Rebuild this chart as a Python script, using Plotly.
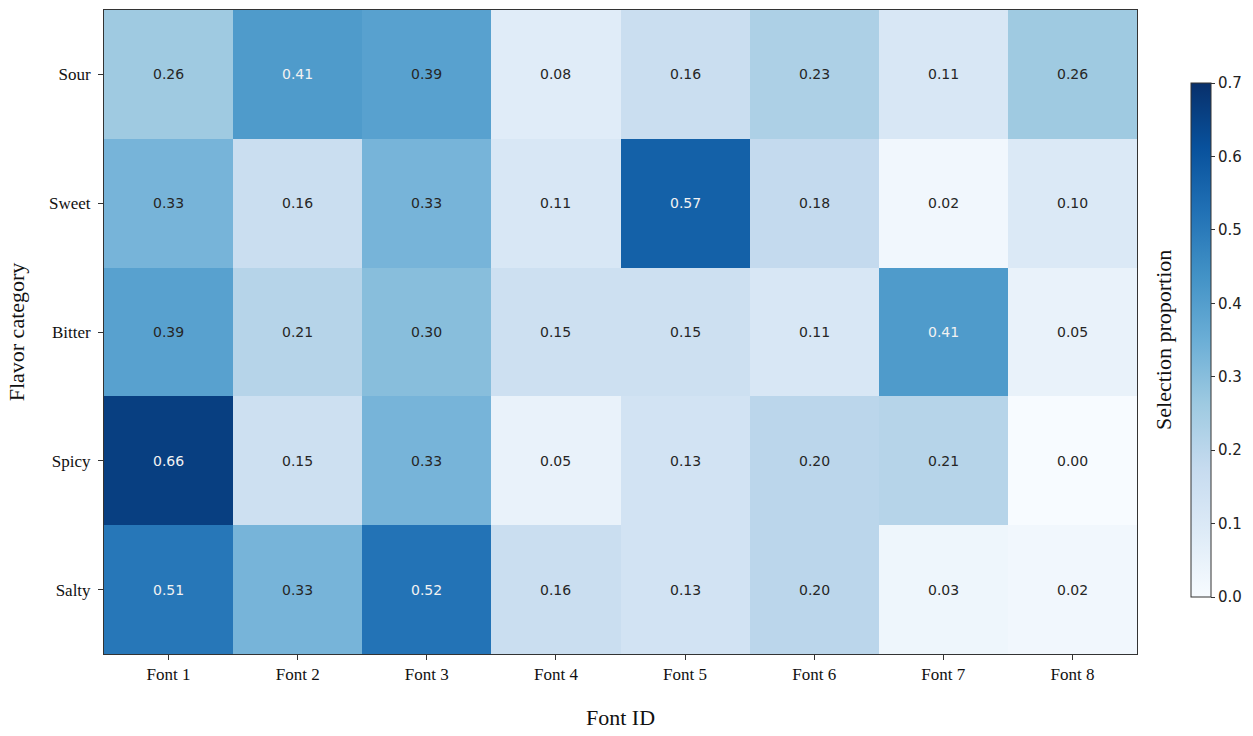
import plotly.graph_objects as go

fonts = ["Font 1", "Font 2", "Font 3", "Font 4", "Font 5", "Font 6", "Font 7", "Font 8"]
flavors = ["Sour", "Sweet", "Bitter", "Spicy", "Salty"]
values = [
    [0.26, 0.41, 0.39, 0.08, 0.16, 0.23, 0.11, 0.26],
    [0.33, 0.16, 0.33, 0.11, 0.57, 0.18, 0.02, 0.10],
    [0.39, 0.21, 0.30, 0.15, 0.15, 0.11, 0.41, 0.05],
    [0.66, 0.15, 0.33, 0.05, 0.13, 0.20, 0.21, 0.00],
    [0.51, 0.33, 0.52, 0.16, 0.13, 0.20, 0.03, 0.02],
]
cbar_ticks = [0.0, 0.1, 0.2, 0.3, 0.4, 0.5, 0.6, 0.7]

serif = "Liberation Serif"
sans = "DejaVu Sans"

fig = go.Figure()
fig.add_trace(go.Heatmap(
    z=values, x=fonts, y=flavors,
    colorscale="Blues", zmin=0, zmax=0.7,
    xgap=0, ygap=0,
    hoverinfo="skip",
    colorbar=dict(
        x=(1193 - 104) / 1035, xanchor="left", xpad=0,
        y=1 - (340 - 10) / 644, yanchor="middle", ypad=0,
        len=514 / 644, lenmode="fraction",
        thickness=20, thicknessmode="pixels",
        outlinewidth=1, outlinecolor="#333333",
        tickvals=cbar_ticks, ticktext=[f"{t:.1f}" for t in cbar_ticks],
        ticks="outside", ticklen=4, tickcolor="#333333",
        tickfont=dict(family=sans, size=15, color="#222222"),
    ),
))

for i, row in enumerate(values):
    for j, v in enumerate(row):
        fig.add_annotation(
            x=fonts[j], y=flavors[i], text=f"{v:.2f}", showarrow=False,
            font=dict(family=sans, size=14, color="#f2f2f2" if v > 0.4 else "#262626"),
        )

fig.add_annotation(
    xref="paper", yref="paper", x=(1165 - 104) / 1035, y=1 - (340 - 10) / 644,
    xanchor="center", yanchor="middle",
    text="Selection proportion", textangle=-90, showarrow=False,
    font=dict(family=serif, size=22, color="#111111"),
)

fig.update_layout(
    width=1253, height=736,
    margin=dict(l=104, r=114, t=10, b=82),
    paper_bgcolor="white", plot_bgcolor="white",
    xaxis=dict(
        title=dict(text="Font ID", font=dict(family=serif, size=22, color="#111111"), standoff=26),
        tickfont=dict(family=serif, size=17, color="#111111"),
        ticks="outside", ticklen=5, tickcolor="#333333",
        showline=True, linecolor="#333333", linewidth=1, mirror=True,
        showgrid=False, zeroline=False,
    ),
    yaxis=dict(
        title=dict(text="Flavor category", font=dict(family=serif, size=22, color="#111111"), standoff=18),
        tickfont=dict(family=serif, size=17, color="#111111"),
        ticks="outside", ticklen=5, tickcolor="#333333", ticklabelstandoff=4,
        showline=True, linecolor="#333333", linewidth=1, mirror=True,
        showgrid=False, zeroline=False, autorange="reversed",
    ),
)

fig.write_html("out.html")
